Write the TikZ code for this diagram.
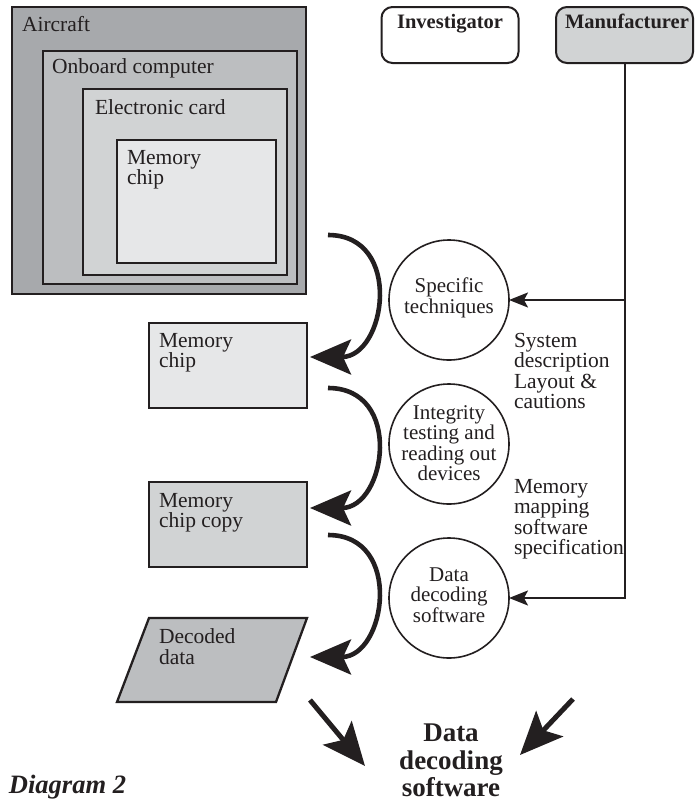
\documentclass[tikz,border=0pt]{standalone}
\usepackage{fontspec}
\setmainfont{Liberation Serif}
\usetikzlibrary{arrows.meta}
\definecolor{ink}{HTML}{231F20}
\definecolor{cA}{HTML}{A7A9AC}
\definecolor{cB}{HTML}{BCBEC0}
\definecolor{cC}{HTML}{D1D3D4}
\definecolor{cD}{HTML}{E6E7E8}
\begin{document}
\begin{tikzpicture}[x=1pt,y=-1pt,
  every node/.style={inner sep=0pt, outer sep=0pt},
  box/.style={draw=ink, line width=2.3pt, anchor=north west},
  rbox/.style={draw=ink, line width=2pt, rounded corners=11pt, minimum width=137pt, minimum height=56pt},
  circ/.style={draw=ink, line width=1.6pt, circle, minimum size=120pt},
  txt/.style={anchor=north west, align=left, font=\fontsize{21.5}{20.5}\selectfont, text=ink},
  ctxt/.style={align=center, font=\fontsize{21}{20.5}\selectfont, text=ink},
  btxt/.style={anchor=north, font=\bfseries\fontsize{20.5}{20.5}\selectfont, text=ink},
  bigarrow/.style={draw=ink, line width=4.6pt, -{Stealth[length=41pt,width=35pt,inset=8pt]}},
  straightarrow/.style={draw=ink, line width=5pt, -{Stealth[length=43pt,width=37pt,inset=9pt]}},
  thinarrow/.style={draw=ink, line width=2pt, -{Stealth[length=19pt,width=15pt,inset=4pt]}}
]
\useasboundingbox (0,0) rectangle (700,804);

% nested boxes
\node[box, fill=cA, minimum width=294pt, minimum height=287pt] (aircraft) at (12,7) {};
\node[box, fill=cB, minimum width=254pt, minimum height=233pt] (onboard) at (43,51) {};
\node[box, fill=cC, minimum width=204pt, minimum height=186pt] (card) at (83,89) {};
\node[box, fill=cD, minimum width=159pt, minimum height=123pt] (chip0) at (117,140) {};
\node[txt] (aircraftt) at (22,16) {Aircraft};
\node[txt] (onboardt) at (52,59) {Onboard computer};
\node[txt] (cardt) at (95,100) {Electronic card};
\node[txt] (chip0t) at (127,150) {Memory\\chip};

% header boxes
\node[rbox] (inv) at (450,35) {};
\node[rbox, fill=cC] (manu) at (624.5,35) {};
\node[btxt] (invt) at (450,14.5) {Investigator};
\node[btxt] (manut) at (627,14) {Manufacturer};

% left column
\node[box, fill=cD, minimum width=158pt, minimum height=85pt] (chip1) at (149,323) {};
\node[txt] (chip1t) at (159,333) {Memory\\chip};
\node[box, fill=cC, minimum width=158pt, minimum height=85pt] (chip2) at (149,482) {};
\node[txt] (chip2t) at (159,493) {Memory\\chip copy};
\draw[draw=ink, line width=2.3pt, fill=cB] (149,618) -- (307,618) -- (276,702) -- (117,702) -- cycle;
\node[txt] (dect) at (159,629) {Decoded\\data};

% circles
\node[circ] (spec) at (449,300) {};
\node[ctxt] (spect) at (449,298) {Specific\\techniques};
\node[circ] (integ) at (449,444) {};
\node[ctxt] (integt) at (449,443) {Integrity\\testing and\\reading out\\devices};
\node[circ] (dd) at (449,598) {};
\node[ctxt] (ddt) at (449,595) {Data\\decoding\\software};

% right texts
\node[txt] (sysd) at (514,333) {System\\description\\Layout \&\\cautions};
\node[txt] (memm) at (514,479) {Memory\\mapping\\software\\specification};

% manufacturer connectors
\draw[thinarrow] (manu.south) |- (dd.east);
\draw[thinarrow] (manu.south |- spec.east) -- (spec.east);

% curved arrows
\coordinate (s1) at (328,235);
\coordinate (t1) at (310,357);
\coordinate (s2) at (328,388);
\coordinate (t2) at (310,508);
\coordinate (s3) at (328,535);
\coordinate (t3) at (310,657);
\draw[bigarrow] (s1) .. controls (404,235) and (386,357) .. (t1);
\draw[bigarrow] (s2) .. controls (404,388) and (386,508) .. (t2);
\draw[bigarrow] (s3) .. controls (404,535) and (386,657) .. (t3);

% bottom
\node[anchor=north, align=center, font=\bfseries\fontsize{27}{27.5}\selectfont, text=ink] (final) at (451,724) {Data\\decoding\\software};
\coordinate (b1s) at (310,700);
\coordinate (b1t) at (365,766);
\coordinate (b2s) at (573,699);
\coordinate (b2t) at (520,755);
\draw[straightarrow] (b1s) -- (b1t);
\draw[straightarrow] (b2s) -- (b2t);

\node[anchor=north west, font=\bfseries\itshape\fontsize{26.5}{27}\selectfont, text=ink] (diag) at (9,775) {Diagram 2};
\end{tikzpicture}
\end{document}
